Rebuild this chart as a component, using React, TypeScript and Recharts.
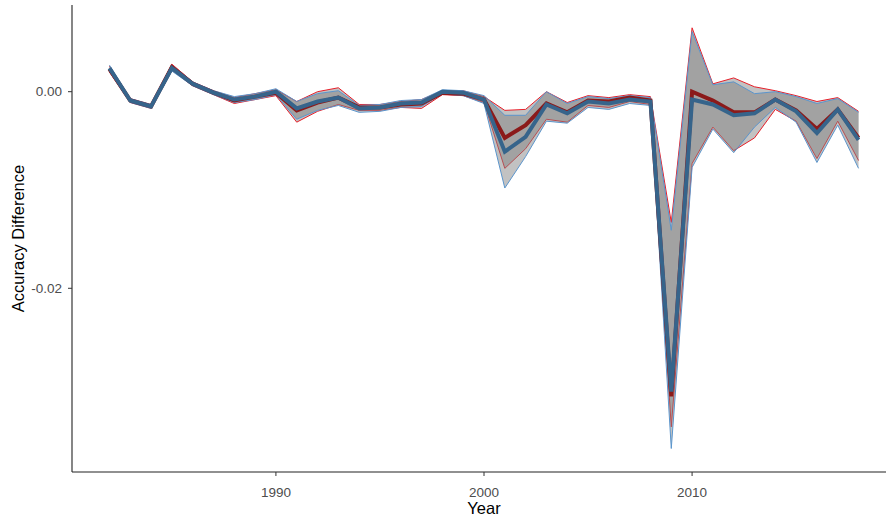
import React from 'react';
import { ComposedChart, Area, Line, XAxis, YAxis, Label } from 'recharts';

const years = [1982, 1983, 1984, 1985, 1986, 1987, 1988, 1989, 1990, 1991, 1992, 1993, 1994, 1995, 1996, 1997, 1998, 1999, 2000, 2001, 2002, 2003, 2004, 2005, 2006, 2007, 2008, 2009, 2010, 2011, 2012, 2013, 2014, 2015, 2016, 2017, 2018];

const redMean = [0.0023, -0.0009, -0.0015, 0.0025, 0.0008, -0.0001, -0.0009, -0.0005, -0.0001, -0.0019, -0.0011, -0.0006, -0.0016, -0.0016, -0.0013, -0.0012, -0.0001, -0.0002, -0.0008, -0.0047, -0.0034, -0.0012, -0.0021, -0.0009, -0.001, -0.0006, -0.0009, -0.031, 0.0, -0.0009, -0.0021, -0.0021, -0.0008, -0.0019, -0.0038, -0.0018, -0.0047];
const redHigh = [0.0026, -0.0007, -0.0013, 0.0028, 0.001, 0.0001, -0.0006, -0.0002, 0.0002, -0.001, 0.0, 0.0004, -0.0013, -0.0013, -0.001, -0.0008, 0.0001, 0.0001, -0.0005, -0.0019, -0.0018, 0.0, -0.0011, -0.0004, -0.0006, -0.0003, -0.0005, -0.0133, 0.0065, 0.0008, 0.0014, 0.0005, 0.0001, -0.0004, -0.001, -0.0006, -0.002];
const redLow = [0.002, -0.0011, -0.0017, 0.0022, 0.0006, -0.0003, -0.0012, -0.0008, -0.0004, -0.0031, -0.002, -0.0013, -0.0019, -0.0019, -0.0016, -0.0017, -0.0003, -0.0004, -0.0011, -0.0078, -0.0058, -0.0028, -0.0031, -0.0014, -0.0016, -0.001, -0.0013, -0.0341, -0.0073, -0.0036, -0.006, -0.0047, -0.0018, -0.003, -0.0068, -0.003, -0.007];

const blueMean = [0.0024, -0.0009, -0.0015, 0.0024, 0.0008, -0.0001, -0.0008, -0.0005, 0.0, -0.0017, -0.001, -0.0006, -0.0017, -0.0016, -0.0012, -0.0011, 0.0, -0.0001, -0.0008, -0.0061, -0.0046, -0.0013, -0.0022, -0.001, -0.0012, -0.0008, -0.001, -0.0305, -0.0008, -0.0013, -0.0024, -0.0022, -0.0008, -0.002, -0.0042, -0.0018, -0.0049];
const blueHigh = [0.0027, -0.0007, -0.0013, 0.0027, 0.001, 0.0001, -0.0005, -0.0002, 0.0003, -0.001, -0.0002, 0.0001, -0.0014, -0.0013, -0.0009, -0.0008, 0.0002, 0.0001, -0.0004, -0.0024, -0.0024, 0.0, -0.0012, -0.0005, -0.0007, -0.0004, -0.0006, -0.0141, 0.0061, 0.0007, 0.001, -0.0002, 0.0, -0.0005, -0.0012, -0.0007, -0.0021];
const blueLow = [0.0021, -0.0011, -0.0017, 0.0021, 0.0006, -0.0003, -0.0011, -0.0008, -0.0003, -0.0028, -0.0019, -0.0014, -0.0021, -0.002, -0.0016, -0.0015, -0.0002, -0.0004, -0.0012, -0.0098, -0.0066, -0.003, -0.0032, -0.0016, -0.0018, -0.0012, -0.0014, -0.0363, -0.0077, -0.0038, -0.0062, -0.0036, -0.0016, -0.0031, -0.0072, -0.0034, -0.0078];

const xTicks = [1990, 2000, 2010];
const yTicks = [-0.02, 0.0];

const data = years.map((year, i) => ({
  year,
  red: redMean[i],
  blue: blueMean[i],
  redRange: [redLow[i], redHigh[i]],
  blueRange: [blueLow[i], blueHigh[i]],
}));

const FONT = '"Liberation Sans", Arial, sans-serif';

const YTitle = (props: any) => {
  const vb = props.viewBox || { x: 0, y: 5, width: 72, height: 467 };
  const cx = 18;
  const cy = vb.y + vb.height / 2;
  return (
    <text x={cx} y={cy} transform={`rotate(-90 ${cx} ${cy})`} textAnchor="middle" dominantBaseline="central" fontFamily={FONT} fontSize={16.5} fill="#000">
      Accuracy Difference
    </text>
  );
};

const XTitle = (props: any) => {
  const vb = props.viewBox || { x: 72, y: 472, width: 824, height: 30 };
  const cx = vb.x + vb.width / 2;
  return (
    <text x={cx} y={508} textAnchor="middle" dominantBaseline="central" fontFamily={FONT} fontSize={16.5} fill="#000">
      Year
    </text>
  );
};

export default function App() {
  return (
    <div style={{ position: 'absolute', left: 0, top: 0, width: 886, height: 519, overflow: 'hidden', background: '#fff' }}>
      <ComposedChart width={910} height={519} data={data} margin={{ top: 5, right: 14, bottom: 17, left: 0 }}>
        <XAxis
          dataKey="year"
          type="number"
          height={30}
          domain={[1980.2, 2019.8]}
          allowDataOverflow
          ticks={xTicks}
          tickSize={4}
          tickMargin={11}
          stroke="#222"
          tick={{ fill: '#4d4d4d', fontSize: 13.5, fontFamily: FONT }}
          tickLine={{ stroke: '#333' }}
          axisLine={{ stroke: '#222', strokeWidth: 1.1 }}
        >
          <Label content={XTitle} />
        </XAxis>
        <YAxis
          type="number"
          width={72}
          domain={[-0.03869, 0.00882]}
          allowDataOverflow
          ticks={yTicks}
          tickFormatter={(v: number) => v.toFixed(2)}
          tickSize={4}
          tickMargin={6}
          stroke="#222"
          tick={{ fill: '#4d4d4d', fontSize: 13.5, fontFamily: FONT }}
          tickLine={{ stroke: '#333' }}
          axisLine={{ stroke: '#222', strokeWidth: 1.1 }}
        >
          <Label content={YTitle} />
        </YAxis>
        <Area
          dataKey="redRange"
          type="linear"
          fill="#808080"
          fillOpacity={0.48}
          stroke="#e8202a"
          strokeWidth={1}
          isAnimationActive={false}
        />
        <Area
          dataKey="blueRange"
          type="linear"
          fill="#808080"
          fillOpacity={0.48}
          stroke="#5b95cc"
          strokeWidth={1}
          isAnimationActive={false}
        />
        <Line dataKey="red" type="linear" stroke="#8b1a1a" strokeWidth={4} dot={false} isAnimationActive={false} />
        <Line dataKey="blue" type="linear" stroke="#36648b" strokeWidth={4} dot={false} isAnimationActive={false} />
      </ComposedChart>
    </div>
  );
}
